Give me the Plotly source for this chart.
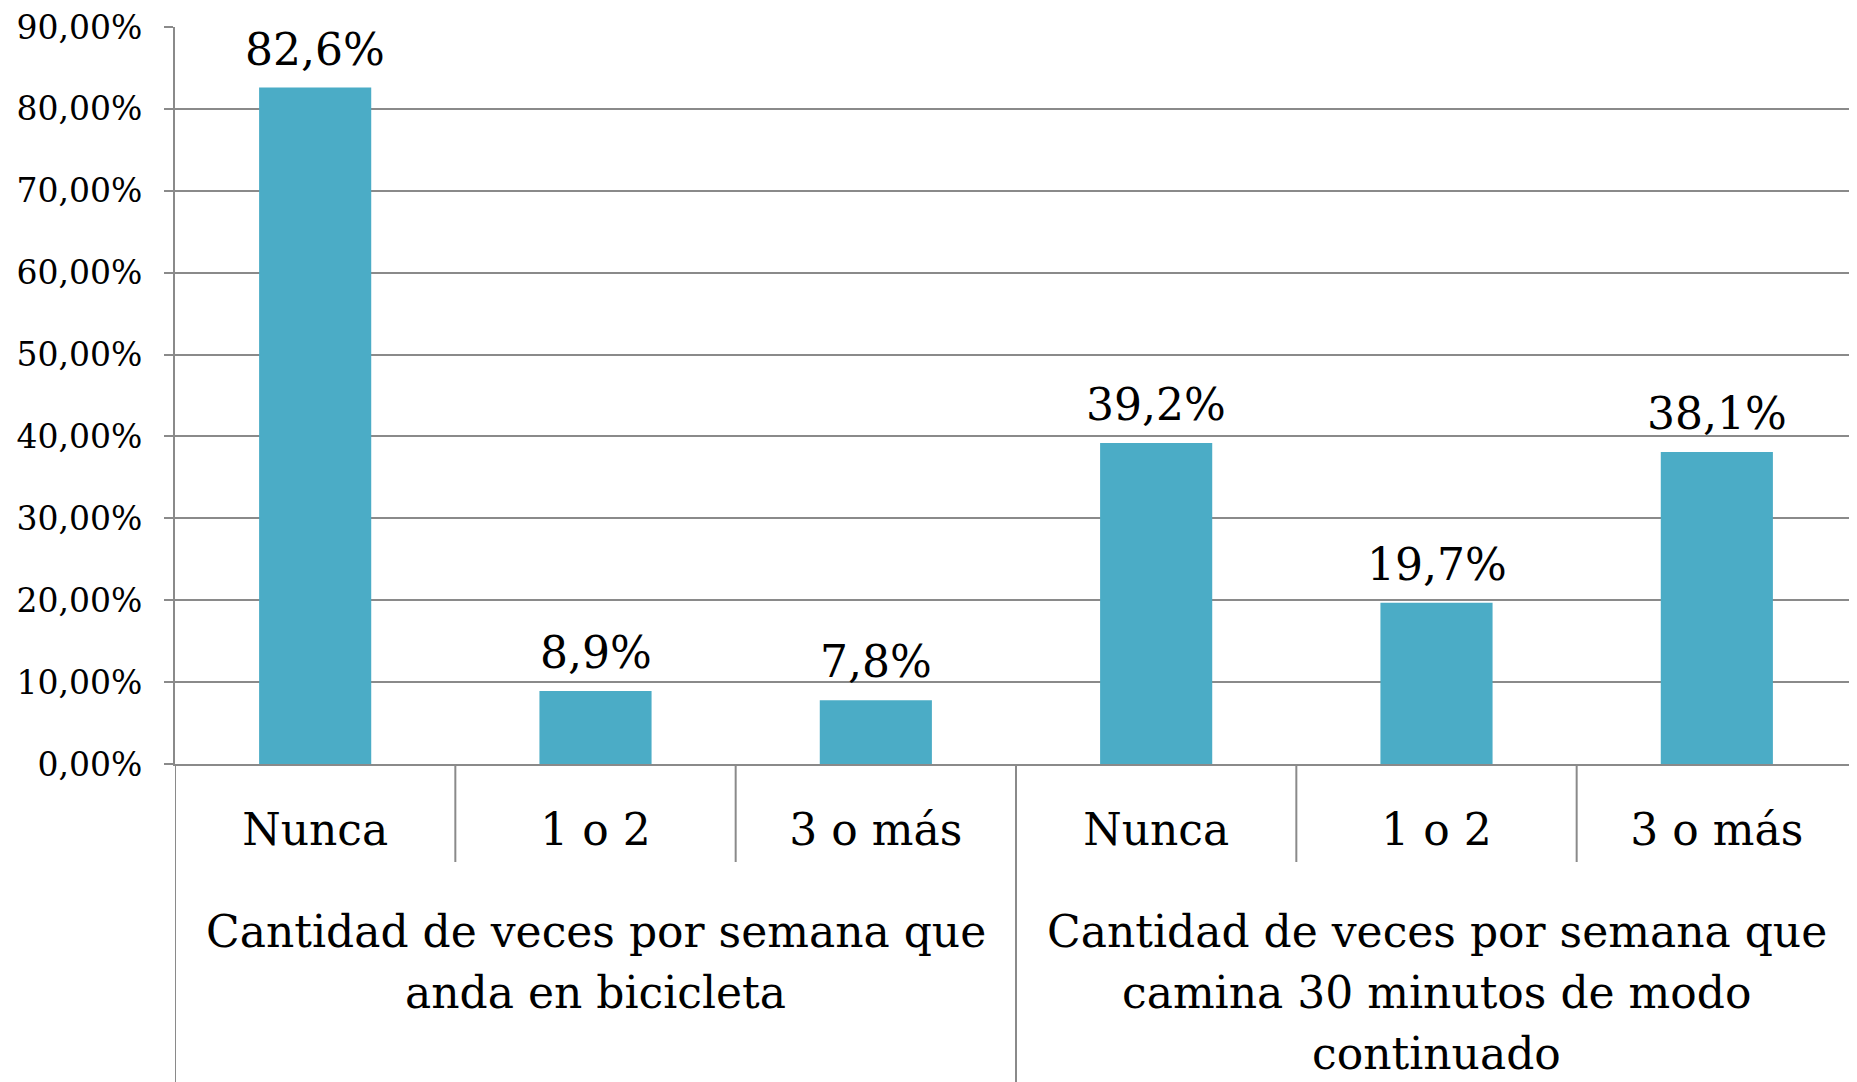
import plotly.graph_objects as go

group_labels = [
    ["Cantidad de veces por semana que", "anda en bicicleta"],
    ["Cantidad de veces por semana que", "camina 30 minutos de modo", "continuado"],
]
group_sizes = [3, 3]
categories = ["Nunca", "1 o 2", "3 o más", "Nunca", "1 o 2", "3 o más"]
values = [0.826, 0.089, 0.078, 0.392, 0.197, 0.381]
y_ticks = [0, 0.1, 0.2, 0.3, 0.4, 0.5, 0.6, 0.7, 0.8, 0.9]

FONT = "DejaVu Serif"
GRID = "#8a8a8a"
PAGE_PAD = 8  # default body margin of the page
W, H = 1857 - PAGE_PAD, 1082 - PAGE_PAD
ML, MR, MT, MB = 175 - PAGE_PAD, 0, 27 - PAGE_PAD, 318
PH = H - MT - MB

xs = list(range(len(categories)))

fig = go.Figure(go.Bar(
    x=xs,
    y=values,
    marker=dict(color="#4BACC6", line=dict(width=0)),
    width=0.4,
    hoverinfo="skip",
))

for xi, v in zip(xs, values):
    fig.add_annotation(
        x=xi, y=v, xref="x", yref="y",
        text=f"{v*100:.1f}%".replace(".", ","),
        showarrow=False, yanchor="bottom", yshift=11,
        font=dict(family=FONT, size=44, color="black"),
    )

start = 0
for gi, gs in enumerate(group_sizes):
    for k in range(1, gs):
        fig.add_shape(type="line", xref="x", yref="paper",
                      x0=start + k - 0.5, x1=start + k - 0.5,
                      y0=0, y1=-98 / PH,
                      line=dict(color=GRID, width=2))
    fig.add_shape(type="line", xref="x", yref="paper",
                  x0=start - 0.5, x1=start - 0.5,
                  y0=0, y1=-MB / PH,
                  line=dict(color=GRID, width=2))
    center = start + (gs - 1) / 2
    for li, line in enumerate(group_labels[gi]):
        fig.add_annotation(
            x=center, xref="x", yref="paper",
            y=-(167 + 61 * li) / PH, yanchor="middle",
            text=line, showarrow=False,
            font=dict(family=FONT, size=44, color="black"),
        )
    start += gs

fig.update_layout(
    width=W, height=H,
    margin=dict(l=ML, r=MR, t=MT, b=MB, autoexpand=False),
    paper_bgcolor="white", plot_bgcolor="white",
    separators=",.",
    showlegend=False,
    font=dict(family=FONT, color="black"),
)
fig.update_yaxes(
    range=[0, 0.9], tickvals=y_ticks, tickformat=".2%",
    showgrid=True, gridcolor=GRID, gridwidth=2,
    showline=True, linecolor=GRID, linewidth=2,
    ticks="outside", ticklen=9, tickcolor=GRID, tickwidth=2,
    tickfont=dict(family=FONT, size=33, color="black"),
    ticklabelstandoff=15, ticklabeloverflow="allow",
    zeroline=False, automargin=False,
)
fig.update_xaxes(
    range=[-0.5, len(categories) - 0.5],
    tickvals=xs, ticktext=categories,
    showgrid=False, zeroline=False,
    showline=True, linecolor=GRID, linewidth=2,
    ticks="",
    tickfont=dict(family=FONT, size=44, color="black"),
    ticklabelstandoff=26,
    automargin=False,
)

fig.write_html("out.html")
